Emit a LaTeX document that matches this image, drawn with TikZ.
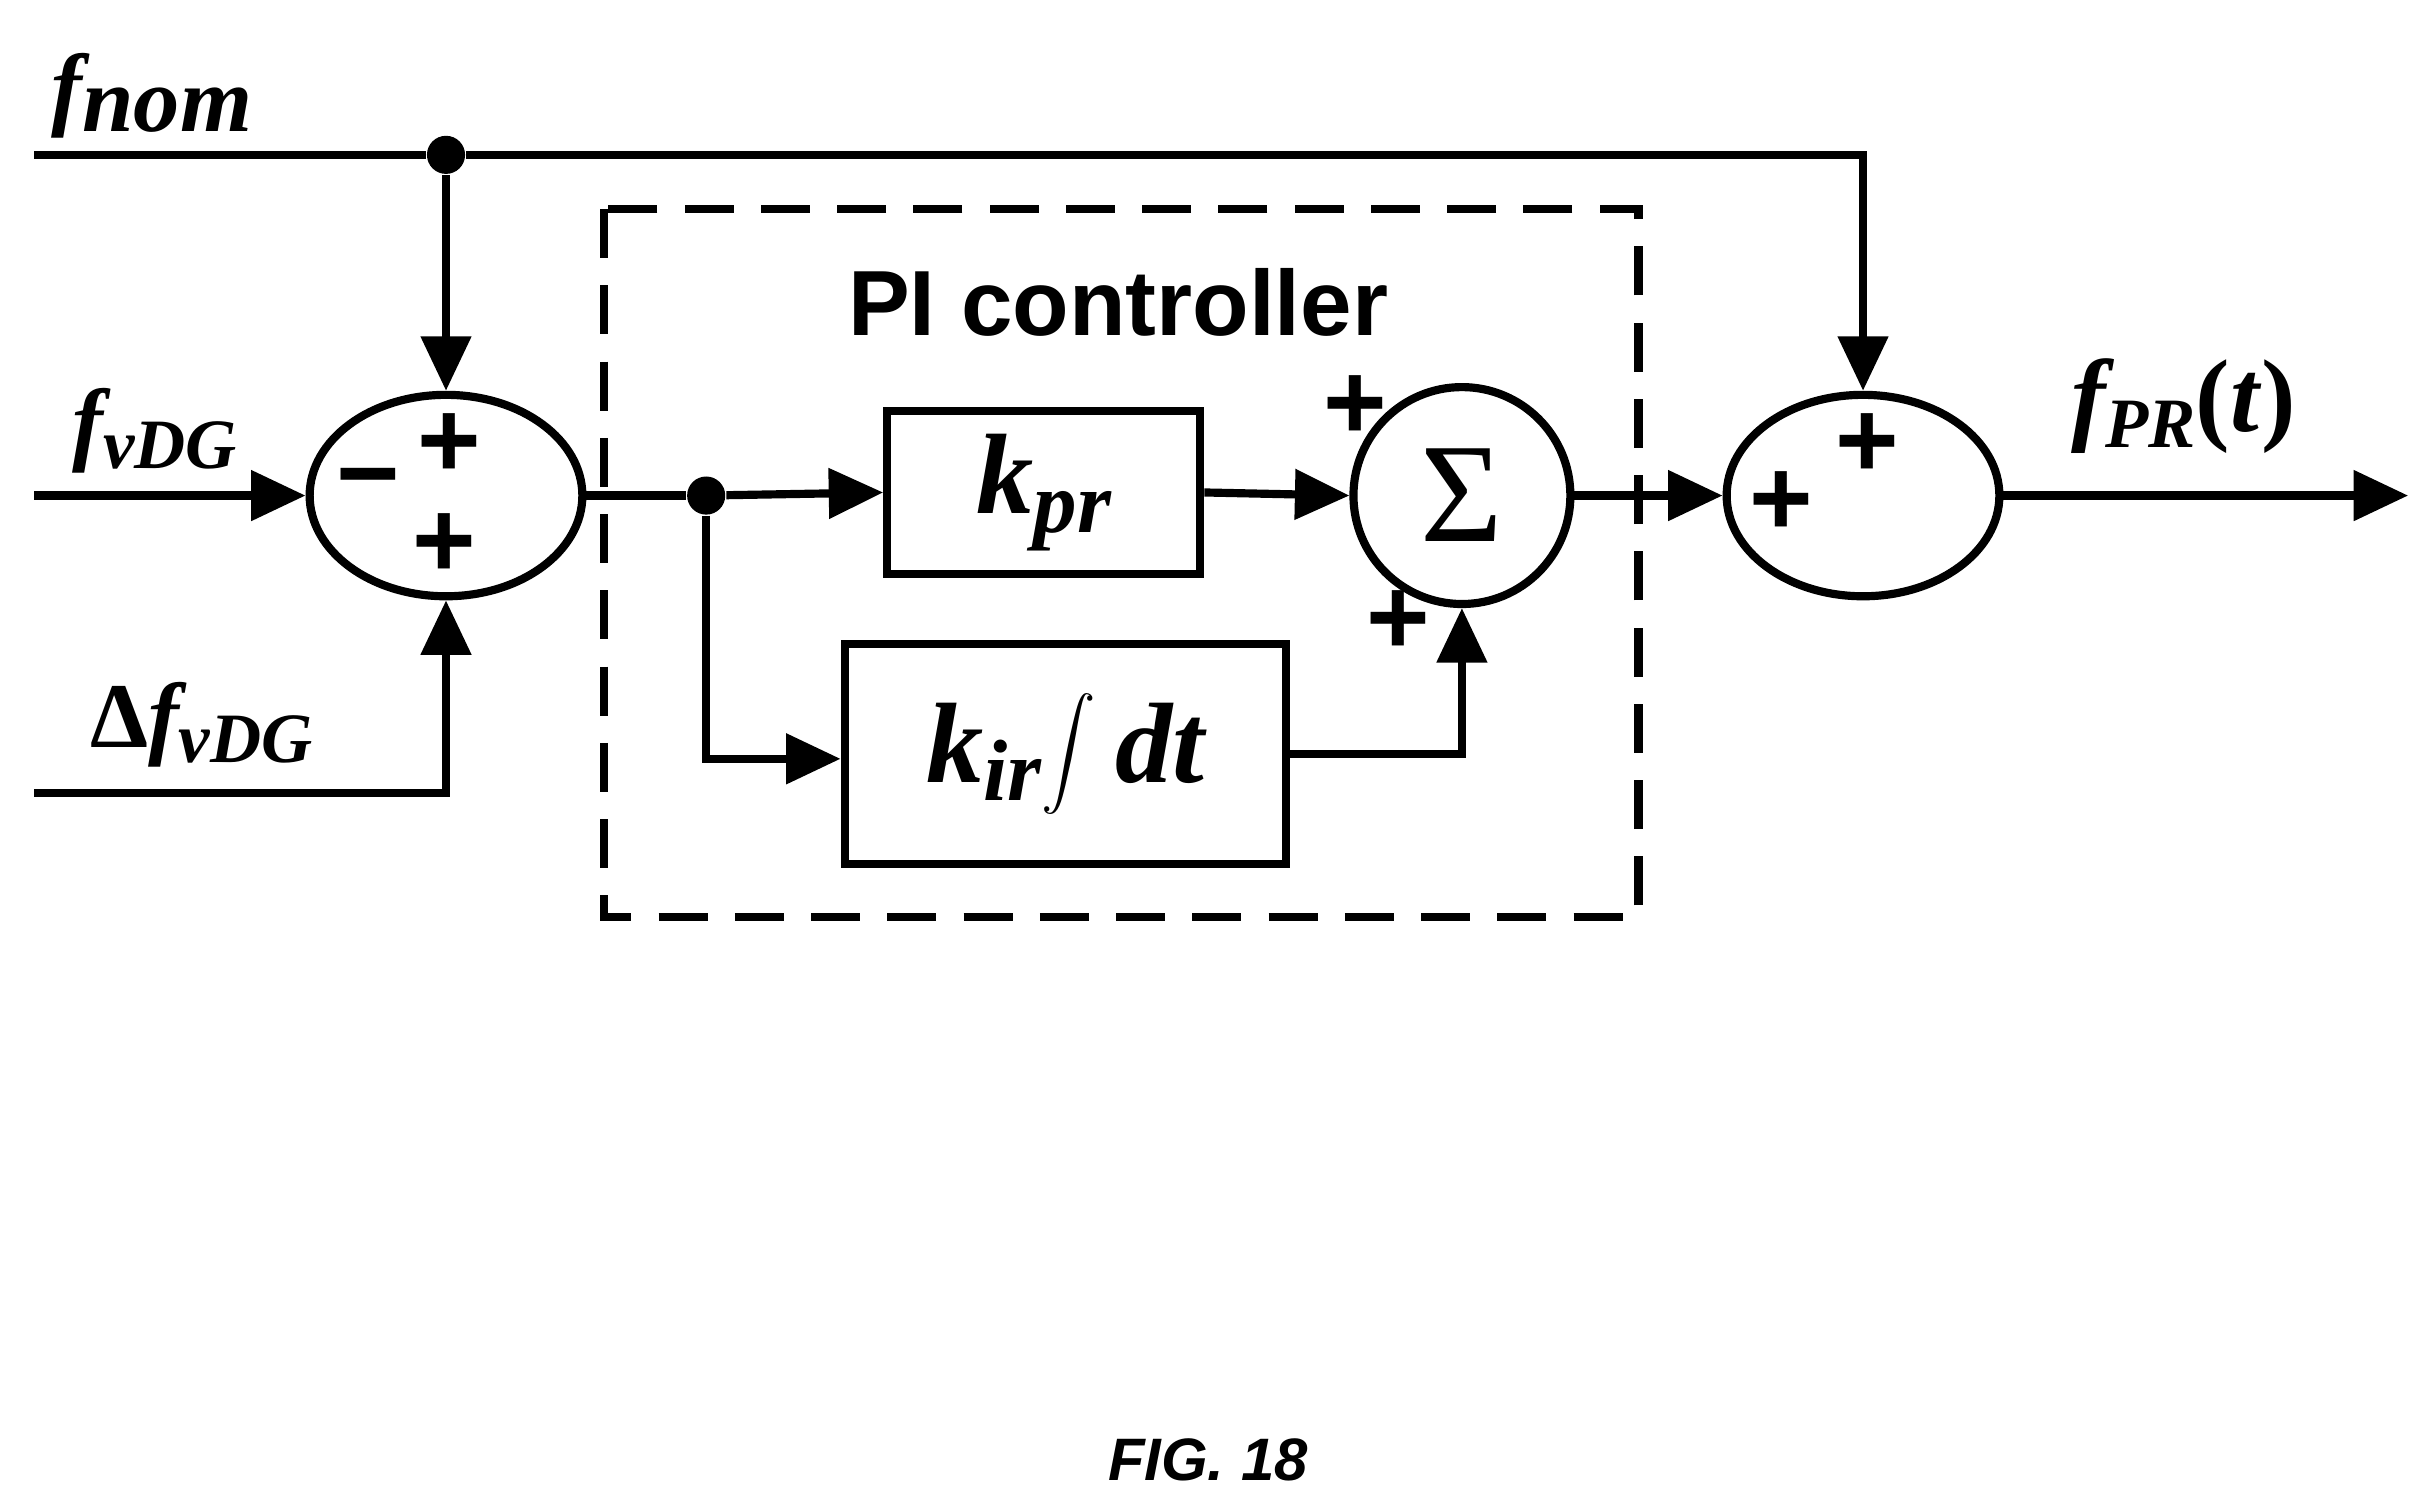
\documentclass[tikz,border=0pt]{standalone}
\usepackage{fontspec}
\setmainfont{Liberation Serif}
\setsansfont{Liberation Sans}
\usetikzlibrary{arrows.meta,shapes.geometric}
\begin{document}
\begin{tikzpicture}[x=0.01cm,y=-0.01cm]
\tikzstyle{wire}=[line width=1.5pt,-{Triangle[length=10pt,width=9pt]}]
\tikzstyle{line}=[line width=1.5pt]
\tikzstyle{sumell}=[ellipse,draw,line width=1.5pt,minimum width=1.76cm,minimum height=1.3cm,inner sep=0pt]
\tikzstyle{block}=[rectangle,draw,line width=1.5pt,inner sep=0pt,font=\fontsize{21}{21}\selectfont\bfseries\itshape]
\tikzstyle{lbl}=[font=\fontsize{17}{17}\selectfont\bfseries\itshape]
\tikzstyle{pm}=[font=\fontsize{20}{20}\selectfont\sffamily\bfseries]
\tikzstyle{dot}=[circle,fill,inner sep=0pt,minimum size=7pt]
\useasboundingbox (0,0) rectangle (1562,967);

% signals and labels
\node[lbl] (fnom) at (98,62) {f\raisebox{-0.3ex}{nom}};
\node[lbl] (fvdg) at (100,278) {f\raisebox{-0.35ex}{\fontsize{13}{13}\selectfont vDG}};
\node[lbl] (dfvdg) at (130,468) {\textup{Δ}f\raisebox{-0.35ex}{\fontsize{13}{13}\selectfont vDG}};
\node[lbl,font=\fontsize{19}{19}\selectfont\bfseries\itshape] (fpr) at (1410,262) {f\raisebox{-0.35ex}{\fontsize{13}{13}\selectfont PR}\textup{(}t\textup{)}};
\coordinate (nomin) at (22,100);
\coordinate (vdgin) at (22,320);
\coordinate (dvdgin) at (22,512);
\coordinate (out) at (1555,320);

% summing junctions
\node[sumell] (sum1) at (288,320) {};
\node[pm] at (238,316) {\textminus};
\node[pm] at (290,288) {+};
\node[pm] at (287,352) {+};
\node[sumell] (sum2) at (1203,320) {};
\node[pm] at (1150,325) {+};
\node[pm] at (1206,288) {+};

% PI controller
\draw[line width=1.5pt,dash pattern=on 9pt off 5pt] (390,135) rectangle (1058,592);
\node[font=\fontsize{17}{17}\selectfont\sffamily\bfseries] (pi) at (722,195) {PI controller};
\node[block,minimum width=2.02cm,minimum height=1.05cm] (kpr) at (674,318) {k\raisebox{-0.35ex}{\fontsize{16}{16}\selectfont pr}};
\node[block,minimum width=2.85cm,minimum height=1.42cm] (kir) at (688,487) {k\raisebox{-0.35ex}{\fontsize{16}{16}\selectfont ir}$\displaystyle\int$\,dt};
\node[circle,draw,line width=1.5pt,minimum size=1.4cm,inner sep=0pt,font=\fontsize{26}{26}\selectfont] (sigma) at (944,320) {Σ};
\node[pm] at (875,263) {+};
\node[pm] at (903,402) {+};

% connections
\node[dot] (d1) at (288,100) {};
\node[dot] (d2) at (456,320) {};
\draw[line] (nomin) -- (d1);
\draw[wire] (d1) -- (1203,100) -- (sum2.north);
\draw[wire] (d1) -- (sum1.north);
\draw[wire] (vdgin) -- (sum1.west);
\draw[wire] (dvdgin) -- (288,512) -- (sum1.south);
\draw[line] (sum1.east) -- (d2);
\draw[wire] (d2) -- (kpr.west);
\draw[wire] (d2) -- (456,490) -- (kir.west |- 0,490);
\draw[wire] (kpr.east) -- (sigma.west);
\draw[wire] (kir.east) -- (944,487) -- (sigma.south);
\draw[wire] (sigma.east) -- (sum2.west);
\draw[wire] (sum2.east) -- (out);

\node[font=\fontsize{11}{11}\selectfont\sffamily\bfseries\itshape] (fig) at (780,943) {FIG. 18};
\end{tikzpicture}
\end{document}
